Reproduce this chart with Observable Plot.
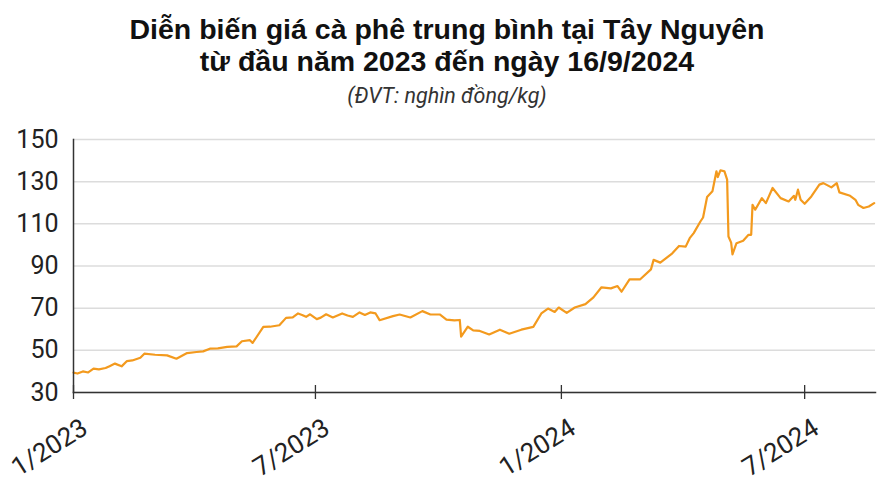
<!DOCTYPE html>
<html>
<head>
<meta charset="utf-8">
<script src="https://cdn.jsdelivr.net/npm/d3@7"></script>
<script src="https://cdn.jsdelivr.net/npm/@observablehq/plot@0.6"></script>
<style>
  html, body { margin: 0; padding: 0; background: #fff; }
  body { width: 894px; height: 483px; position: relative; overflow: hidden; font-family: Roboto, sans-serif; }
  .title { position: absolute; left: 0; width: 894px; text-align: center; font-family: "Liberation Sans", Arial, sans-serif; font-weight: 700; font-size: 28.5px; line-height: 32px; color: #111; white-space: nowrap; }
  #t1 { top: 13px; }
  #t2 { top: 45px; }
  #subtitle { position: absolute; top: 84px; left: 0; width: 894px; text-align: center; font-style: italic; font-size: 21.5px; line-height: 24px; color: #333; }
  #chart { position: absolute; top: 118px; left: 0; }
</style>
</head>
<body>
<div class="title" id="t1">Diễn biến giá cà phê trung bình tại Tây Nguyên</div>
<div class="title" id="t2">từ đầu năm 2023 đến ngày 16/9/2024</div>
<div id="subtitle">(ĐVT: nghìn đồng/kg)</div>
<div id="chart"></div>
<script>
const dates = [
  "2023-01-01","2023-01-04","2023-01-08","2023-01-12","2023-01-16","2023-01-20","2023-01-25","2023-01-28",
  "2023-02-01","2023-02-06","2023-02-10","2023-02-14","2023-02-20","2023-02-23","2023-03-03","2023-03-12",
  "2023-03-19","2023-03-27","2023-04-03","2023-04-08","2023-04-13","2023-04-19","2023-04-26","2023-05-03",
  "2023-05-07","2023-05-13","2023-05-15","2023-05-23","2023-05-28","2023-06-04","2023-06-09","2023-06-14",
  "2023-06-18","2023-06-21","2023-06-24","2023-06-27","2023-07-02","2023-07-05","2023-07-09","2023-07-14",
  "2023-07-21","2023-07-25","2023-07-29","2023-08-03","2023-08-07","2023-08-11","2023-08-15","2023-08-18",
  "2023-08-28","2023-09-02","2023-09-10","2023-09-19","2023-09-25","2023-10-02","2023-10-07","2023-10-13",
  "2023-10-17","2023-10-18","2023-10-23","2023-10-27","2023-11-01","2023-11-08","2023-11-16","2023-11-23",
  "2023-12-02","2023-12-11","2023-12-17","2023-12-22","2023-12-27","2023-12-30","2024-01-05","2024-01-11",
  "2024-01-19","2024-01-25","2024-01-31","2024-02-07","2024-02-12","2024-02-15","2024-02-21","2024-02-29",
  "2024-03-08","2024-03-10","2024-03-15","2024-03-24","2024-03-29","2024-04-03","2024-04-06","2024-04-09",
  "2024-04-14","2024-04-16","2024-04-19","2024-04-23","2024-04-26","2024-04-27","2024-04-29","2024-05-02",
  "2024-05-04","2024-05-05","2024-05-07","2024-05-08","2024-05-11","2024-05-16","2024-05-20","2024-05-22",
  "2024-05-23","2024-05-25","2024-05-30","2024-06-02","2024-06-07","2024-06-13","2024-06-19","2024-06-23",
  "2024-06-24","2024-06-26","2024-06-28","2024-07-01","2024-07-06","2024-07-12","2024-07-15","2024-07-21",
  "2024-07-25","2024-07-27","2024-08-04","2024-08-08","2024-08-10","2024-08-14","2024-08-18","2024-08-22"
];
const prices = [
  39.4,39.0,40.0,39.5,41.3,41.0,41.6,42.5,
  43.7,42.4,44.9,45.2,46.5,48.4,47.9,47.6,
  46.0,48.7,49.2,49.5,50.8,50.9,51.6,51.9,
  54.3,54.8,53.5,61.1,61.2,61.9,65.4,65.6,
  67.5,66.8,65.9,67.1,64.8,65.5,67.1,65.6,
  67.5,66.5,65.9,68.0,66.8,68.0,67.5,64.3,
  66.2,67.0,65.6,68.6,67.0,67.0,64.6,64.2,
  64.4,56.5,61.2,59.5,59.2,57.5,59.8,57.9,
  59.8,61.1,67.5,69.8,68.2,70.3,67.8,70.3,
  71.9,75.1,79.9,79.4,80.5,77.8,83.7,83.7,
  88.4,92.9,91.6,96.0,99.5,99.2,103.2,105.6,
  111.1,113.0,122.7,125.4,134.9,132.2,135.4,134.9,
  131.0,104.0,101.1,95.5,100.8,102.0,104.8,104.8,
  119.0,116.7,122.2,119.8,127.0,122.2,120.6,123.3,
  121.4,126.2,121.4,119.5,123.0,128.6,129.3,127.3,
  129.3,124.9,123.3,121.4,119.0,117.5,118.2,119.8
];
const yTicks = [30, 50, 70, 90, 110, 130, 150];
const xTickDates = ["2023-01-01", "2023-07-01", "2024-01-01", "2024-07-01"];
const xTickLabels = ["1/2023", "7/2023", "1/2024", "7/2024"];
const xDomain = ["2023-01-01", "2024-08-23"];

const parse = d3.utcParse("%Y-%m-%d");
const rows = dates.map((d, i) => ({date: parse(d), price: prices[i]}));
const xTicks = xTickDates.map(parse);
const labelOf = new Map(xTicks.map((d, i) => [+d, xTickLabels[i]]));

const chart = Plot.plot({
  width: 894,
  height: 365,
  marginTop: 21,
  marginBottom: 91,
  marginLeft: 73,
  marginRight: 19,
  style: {fontFamily: "Roboto, sans-serif", background: "#fff"},
  x: {type: "utc", domain: xDomain.map(parse), axis: null},
  y: {domain: [30, 150], axis: null},
  marks: [
    Plot.ruleY(yTicks, {stroke: "#dcdcdc", strokeWidth: 1.5}),
    Plot.axisY({ticks: yTicks, tickSize: 0, tickPadding: 15, fontSize: 25, color: "#222", label: null}),
    Plot.line(rows, {x: "date", y: "price", stroke: "#F39A1E", strokeWidth: 2.2, curve: "linear"}),
    Plot.frame({anchor: "left", stroke: "#333", strokeWidth: 1.5}),
    Plot.frame({anchor: "bottom", stroke: "#333", strokeWidth: 1.5}),
    Plot.axisX({ticks: xTicks, tickSize: 14, dy: -7, tickFormat: () => "", stroke: "#333", strokeWidth: 1.3, label: null}),
    Plot.text(xTicks, {x: d => d, frameAnchor: "bottom", text: d => labelOf.get(+d), textAnchor: "end", lineAnchor: "bottom", rotate: -32, dx: 16, dy: 40, fontSize: 26, fill: "#222"})
  ]
});
document.getElementById("chart").appendChild(chart);
</script>
</body>
</html>
